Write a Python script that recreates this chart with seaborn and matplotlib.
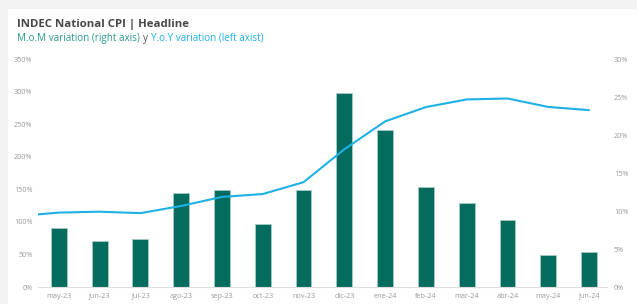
import pandas as pd
import seaborn as sns
import matplotlib.pyplot as plt
from matplotlib.patches import Rectangle

# data; abr-23 only feeds the clipped start of the line
months = ['abr-23', 'may-23', 'jun-23', 'jul-23', 'ago-23', 'sep-23', 'oct-23', 'nov-23',
          'dic-23', 'ene-24', 'feb-24', 'mar-24', 'abr-24', 'may-24', 'jun-24']
mom = [None, 7.8, 6.0, 6.3, 12.4, 12.7, 8.3, 12.8, 25.5, 20.6, 13.2, 11.0, 8.8, 4.2, 4.6]
yoy = [108.8, 114.2, 115.6, 113.4, 124.4, 138.3, 142.7, 160.9, 211.4, 254.2, 276.2,
       287.9, 289.4, 276.4, 271.5]
left_ticks = [0, 50, 100, 150, 200, 250, 300, 350]
right_ticks = [0, 5, 10, 15, 20, 25, 30]

BAR_COLOR = '#046b5f'
LINE_COLOR = '#1fb1e6'
TICK_COLOR = '#9a9a9a'

df = pd.DataFrame({'month': months, 'mom': mom, 'yoy': yoy})

sns.set_style('white')
plt.rcParams['font.family'] = ['Open Sans', 'DejaVu Sans']

fig = plt.figure(figsize=(6.37, 3.04), dpi=100, facecolor='#f3f3f3')
# white card behind everything
fig.patches.append(Rectangle((8 / 637, 0), 1, 295 / 304, transform=fig.transFigure,
                             facecolor='white', edgecolor='none', zorder=-10))

ax = fig.add_axes([38 / 637, 1 - 287 / 304, 569 / 637, 228 / 304])
ax.set_facecolor('none')
ax2 = ax.twinx()
ax2.set_facecolor('none')

# bars: month over month, shown on the right axis
sns.barplot(data=df, x='month', y='mom', order=months, color=BAR_COLOR, width=0.39,
            saturation=1, edgecolor='#a7cbc6', linewidth=0.6, ax=ax)
ax.set_ylim(0, 30)
ax.set_yticks(right_ticks)
ax.set_yticklabels([f'{t}%' for t in right_ticks])

# line: year over year, shown on the left axis
sns.lineplot(data=df, x='month', y='yoy', color=LINE_COLOR, linewidth=1.5,
             ax=ax2, sort=False)
ax2.set_ylim(0, 350)
ax2.set_yticks(left_ticks)
ax2.set_yticklabels([f'{t}%' for t in left_ticks])

for a in (ax, ax2):
    a.set_xlim(0.49, 14.44)
    a.set_xlabel('')
    a.set_ylabel('')
    for s in ['top', 'left', 'right']:
        a.spines[s].set_visible(False)
    a.tick_params(axis='both', length=0, labelsize=5.2, colors=TICK_COLOR)
ax.spines['bottom'].set_color('#dddddd')
ax2.spines['bottom'].set_visible(False)

# swap sides: bars' scale on the right, line's scale on the left
ax.yaxis.tick_right()
ax2.yaxis.tick_left()
ax.tick_params(axis='y', pad=5, length=0)
ax2.tick_params(axis='y', pad=4, length=0)
ax.tick_params(axis='x', pad=4)

# titles
fig.text(17 / 637, 1 - 24 / 304, 'INDEC National CPI | Headline', fontsize=8.2,
         fontweight='bold', color='#474747', va='center', ha='left')
t1 = fig.text(17 / 637, 1 - 38 / 304, 'M.o.M variation (right axis)', fontsize=7.1,
              color='#2a9a8c', va='center', ha='left')
fig.canvas.draw()
x = t1.get_window_extent().x1 / fig.bbox.width
t2 = fig.text(x + 3 / 637, 1 - 38 / 304, 'y', fontsize=7.1, color='#555555',
              va='center', ha='left')
fig.canvas.draw()
x = t2.get_window_extent().x1 / fig.bbox.width
fig.text(x + 3 / 637, 1 - 38 / 304, 'Y.o.Y variation (left axist)', fontsize=7.1,
         color=LINE_COLOR, va='center', ha='left')

plt.savefig('out.png', dpi=100, facecolor=fig.get_facecolor())
